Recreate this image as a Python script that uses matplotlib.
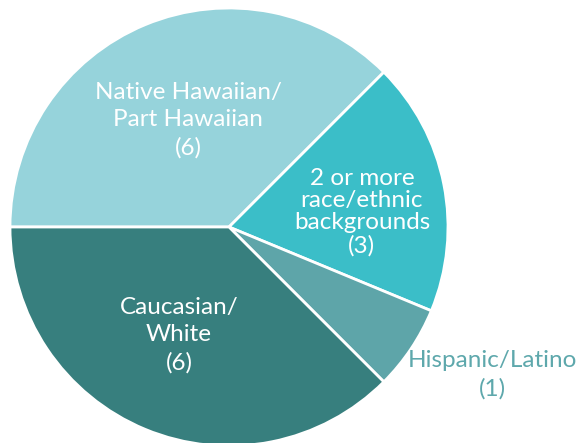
import matplotlib
matplotlib.use("Agg")
import matplotlib.pyplot as plt

categories = ["Native Hawaiian/\nPart Hawaiian", "2 or more\nrace/ethnic\nbackgrounds", "Hispanic/Latino", "Caucasian/\nWhite"]
values = [6, 3, 1, 6]
colors = ["#96D3DB", "#3BBEC8", "#5EA5A9", "#377F7E"]

plt.rcParams['font.family'] = ['Lato', 'DejaVu Sans']

fig = plt.figure(figsize=(5.79, 4.43), dpi=100)
W, H = 579, 443
cx, cy, r = 229, 443 - 227, 219
ax = fig.add_axes([(cx - r) / W, (cy - r) / H, 2 * r / W, 2 * r / H])
ax.pie(values, colors=colors, startangle=180, counterclock=False, radius=1,
       wedgeprops=dict(edgecolor="white", linewidth=2))
ax.set_xlim(-1, 1)
ax.set_ylim(-1, 1)
ax.set_aspect("equal")
ax.axis("off")

label_pos = [(-0.187, 0.489), (0.607, 0.068), (1.201, -0.676), (-0.228, -0.493)]
text_colors = ["white", "white", "#5EA8AC", "white"]
for cat, v, (x, y), tc in zip(categories, values, label_pos, text_colors):
    ls = 1.07 if cat.startswith("2") else 1.38
    ax.text(x, y, f"{cat}\n({v})", ha="center", va="center", color=tc,
            fontsize=17.5, linespacing=ls, clip_on=False)

fig.savefig("out.png", dpi=100)
